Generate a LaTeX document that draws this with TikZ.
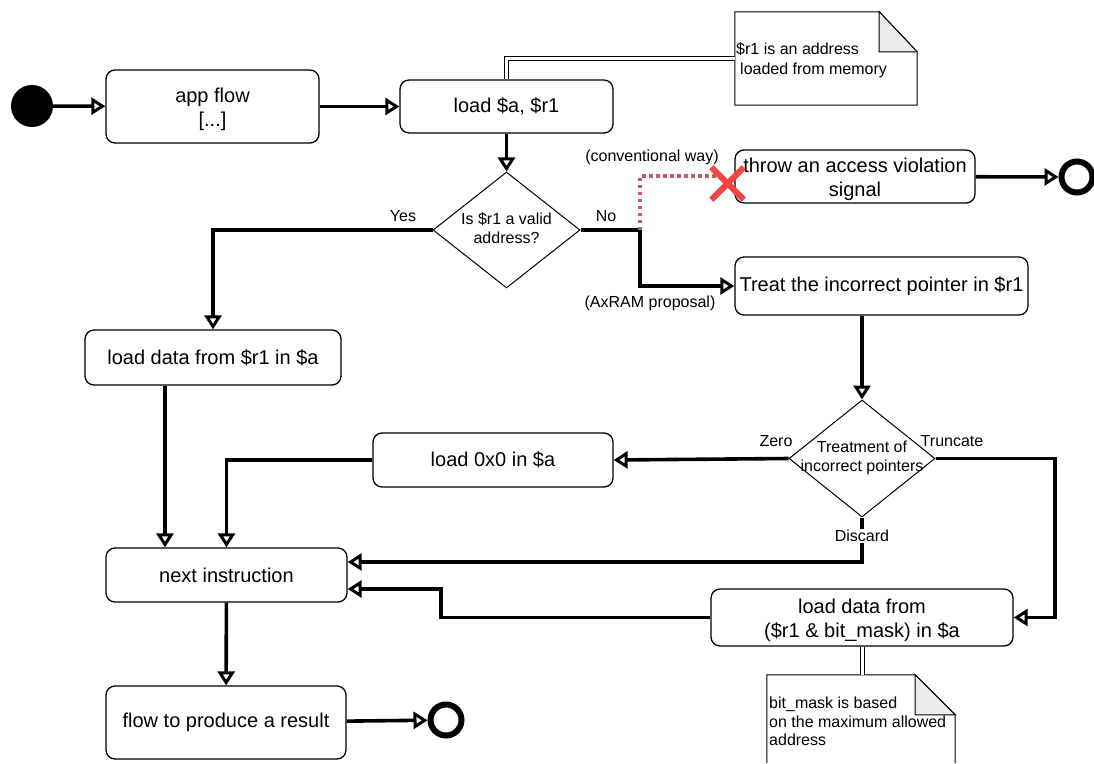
\documentclass[tikz,border=0pt]{standalone}
\usepackage{fontspec}
\setmainfont{Liberation Sans}
\usetikzlibrary{arrows.meta,shapes.geometric,calc}
\definecolor{xred}{RGB}{240,70,70}
\definecolor{dotred}{RGB}{192,92,90}
\definecolor{foldgrey}{RGB}{235,235,235}
\begin{document}
\begin{tikzpicture}[x=1pt,y=-1pt,
  big/.style={font=\fontsize{20}{24}\selectfont},
  small/.style={font=\fontsize{16}{19}\selectfont},
  box/.style={draw,line width=1.3pt,rounded corners=9pt,align=center,big,inner sep=0pt},
  decision/.style={draw,line width=1pt,diamond,inner sep=0pt},
  conn/.style={line width=3.6pt,-{Triangle[length=14pt,width=17pt,fill=white,line width=3pt]}},
  lbl/.style={small,inner sep=1pt},
  notebox/.style={inner sep=0pt},
  endc/.style={circle,draw,line width=6pt,minimum size=31pt,inner sep=0pt},
]
\useasboundingbox (0,0) rectangle (1094,763);

% nodes
\node[circle,fill=black,minimum size=42pt,inner sep=0pt] (start) at (32,106) {};
\node[box,minimum width=213pt,minimum height=73pt] (appflow) at (212.5,106.5) {};
\node[big,align=center,inner sep=0pt] (appflowt) at (212.5,109) {app flow\\{[...]}};
\node[box,minimum width=213pt,minimum height=53pt] (load) at (506.5,106.5) {load \$a, \$r1};
\node[box,minimum width=240pt,minimum height=53pt] (throw) at (855,176.5) {};
\node[big,align=center,inner sep=0pt] (throwt) at (855,179) {throw an access violation\\signal};
\node[box,minimum width=293pt,minimum height=58pt] (treat) at (881.5,286) {Treat the incorrect pointer in \$r1};
\node[box,minimum width=256pt,minimum height=55pt] (loaddata) at (213,357.5) {load data from \$r1 in \$a};
\node[box,minimum width=240pt,minimum height=54pt] (zero) at (493,460) {load 0x0 in \$a};
\node[box,minimum width=241pt,minimum height=54pt] (next) at (226.5,575) {next instruction};
\node[box,minimum width=302pt,minimum height=57pt] (trunc) at (862,617.5) {};
\node[big,align=center,inner sep=0pt] (trunct) at (862,620) {load data from\\(\$r1 \& bit\_mask) in \$a};
\node[box,minimum width=240pt,minimum height=73pt] (flow) at (226,722.5) {flow to produce a result};
\node[decision,minimum width=147pt,minimum height=116pt] (dec1) at (506.5,230) {};
\node[small,align=center,inner sep=0pt] (dec1t) at (506.5,228) {Is \$r1 a valid\\address?};
\node[decision,minimum width=146pt,minimum height=117pt] (dec2) at (862,458.5) {};
\node[small,align=center,inner sep=0pt] (dec2t) at (862,458) {Treatment of\\incorrect pointers};
\node[endc] (end1) at (1077,177) {};
\node[endc] (end2) at (446,720) {};

% notes
\node[notebox,minimum width=182pt,minimum height=93pt] (note1) at (826,58.5) {};
\draw[line width=1pt] (note1.north west) -- ([xshift=-38pt]note1.north east) -- ([yshift=-40pt]note1.north east) -- (note1.south east) -- (note1.south west) -- cycle;
\draw[line width=1pt,fill=foldgrey] ([xshift=-38pt]note1.north east) -- ([xshift=-38pt,yshift=-40pt]note1.north east) -- ([yshift=-40pt]note1.north east) -- cycle;
\node[align=left,anchor=west,inner sep=0pt,font=\fontsize{16}{20}\selectfont] (note1t) at (736,60) {\$r1 is an address\\\hspace*{4pt}loaded from memory};

\node[notebox,minimum width=188pt,minimum height=88pt] (note2) at (861,719) {};
\draw[line width=1pt] (note2.south west) -- (note2.north west) -- ([xshift=-40pt]note2.north east) -- ([yshift=-40pt]note2.north east) -- (note2.south east);
\draw[line width=1pt,fill=foldgrey] ([xshift=-40pt]note2.north east) -- ([xshift=-40pt,yshift=-40pt]note2.north east) -- ([yshift=-40pt]note2.north east) -- cycle;
\node[align=left,anchor=north west,inner sep=0pt,font=\fontsize{16}{18.5}\selectfont] (note2t) at (769,697) {bit\_mask is based\\on the maximum allowed\\address};

% note connectors (double lines)
\draw[line width=1pt,double=white,double distance=3pt] (note1.west) -| (load.north);
\draw[line width=1pt,double=white,double distance=3pt] (trunc.south) -- (trunc.south |- note2.north);

% coordinates
\coordinate (nobend) at (640,230);
\coordinate (dotend) at (718,176);
\coordinate (truncbend) at (1055,458.5);
\coordinate (trbend) at (441,617.5);
\coordinate (c165) at (165,0);

% connectors
\draw[conn] (start) -- (appflow);
\draw[conn] (appflow) -- (load);
\draw[conn] (load) -- (dec1);
\draw[conn] (dec1.west) -| (loaddata.north);
\draw[conn] (dec1.east) -- (nobend) |- (treat.west);
\draw[dotred,line width=3.5pt,dash pattern=on 3.5pt off 3.5pt] (nobend) |- (dotend);
\node[inner sep=0pt,minimum size=32pt] (xmark) at (727.5,183.5) {};
\draw[xred,line width=6pt] (xmark.north west) -- (xmark.south east);
\draw[xred,line width=6pt] (xmark.north east) -- (xmark.south west);
\draw[conn] (throw) -- (end1);
\draw[conn] (dec2.north |- treat.south) -- (dec2.north);
\draw[conn] (dec2.west) -- (zero.east);
\draw[conn] (dec2.east) -- (truncbend) |- (trunc.east);
\draw[conn] (dec2.south) |- ([yshift=13pt]next.east);
\draw[conn] (trunc.west) -- (trbend) |- ([yshift=-14pt]next.east);
\draw[conn] (zero.west) -| (next.north);
\draw[conn] (loaddata.south -| c165) -- (next.north -| c165);
\draw[conn] (next) -- (flow);
\draw[conn] (flow) -- (end2);

% labels
\node[lbl] (yes) at (403,216) {Yes};
\node[lbl] (no) at (606,216) {No};
\node[lbl] (conv) at (652,157) {(conventional way)};
\node[lbl] (axram) at (650,303) {(AxRAM proposal)};
\node[lbl] (zerol) at (776,441) {Zero};
\node[lbl] (truncl) at (952,441) {Truncate};
\node[lbl,fill=white] (discl) at (862,536) {Discard};
\end{tikzpicture}
\end{document}
